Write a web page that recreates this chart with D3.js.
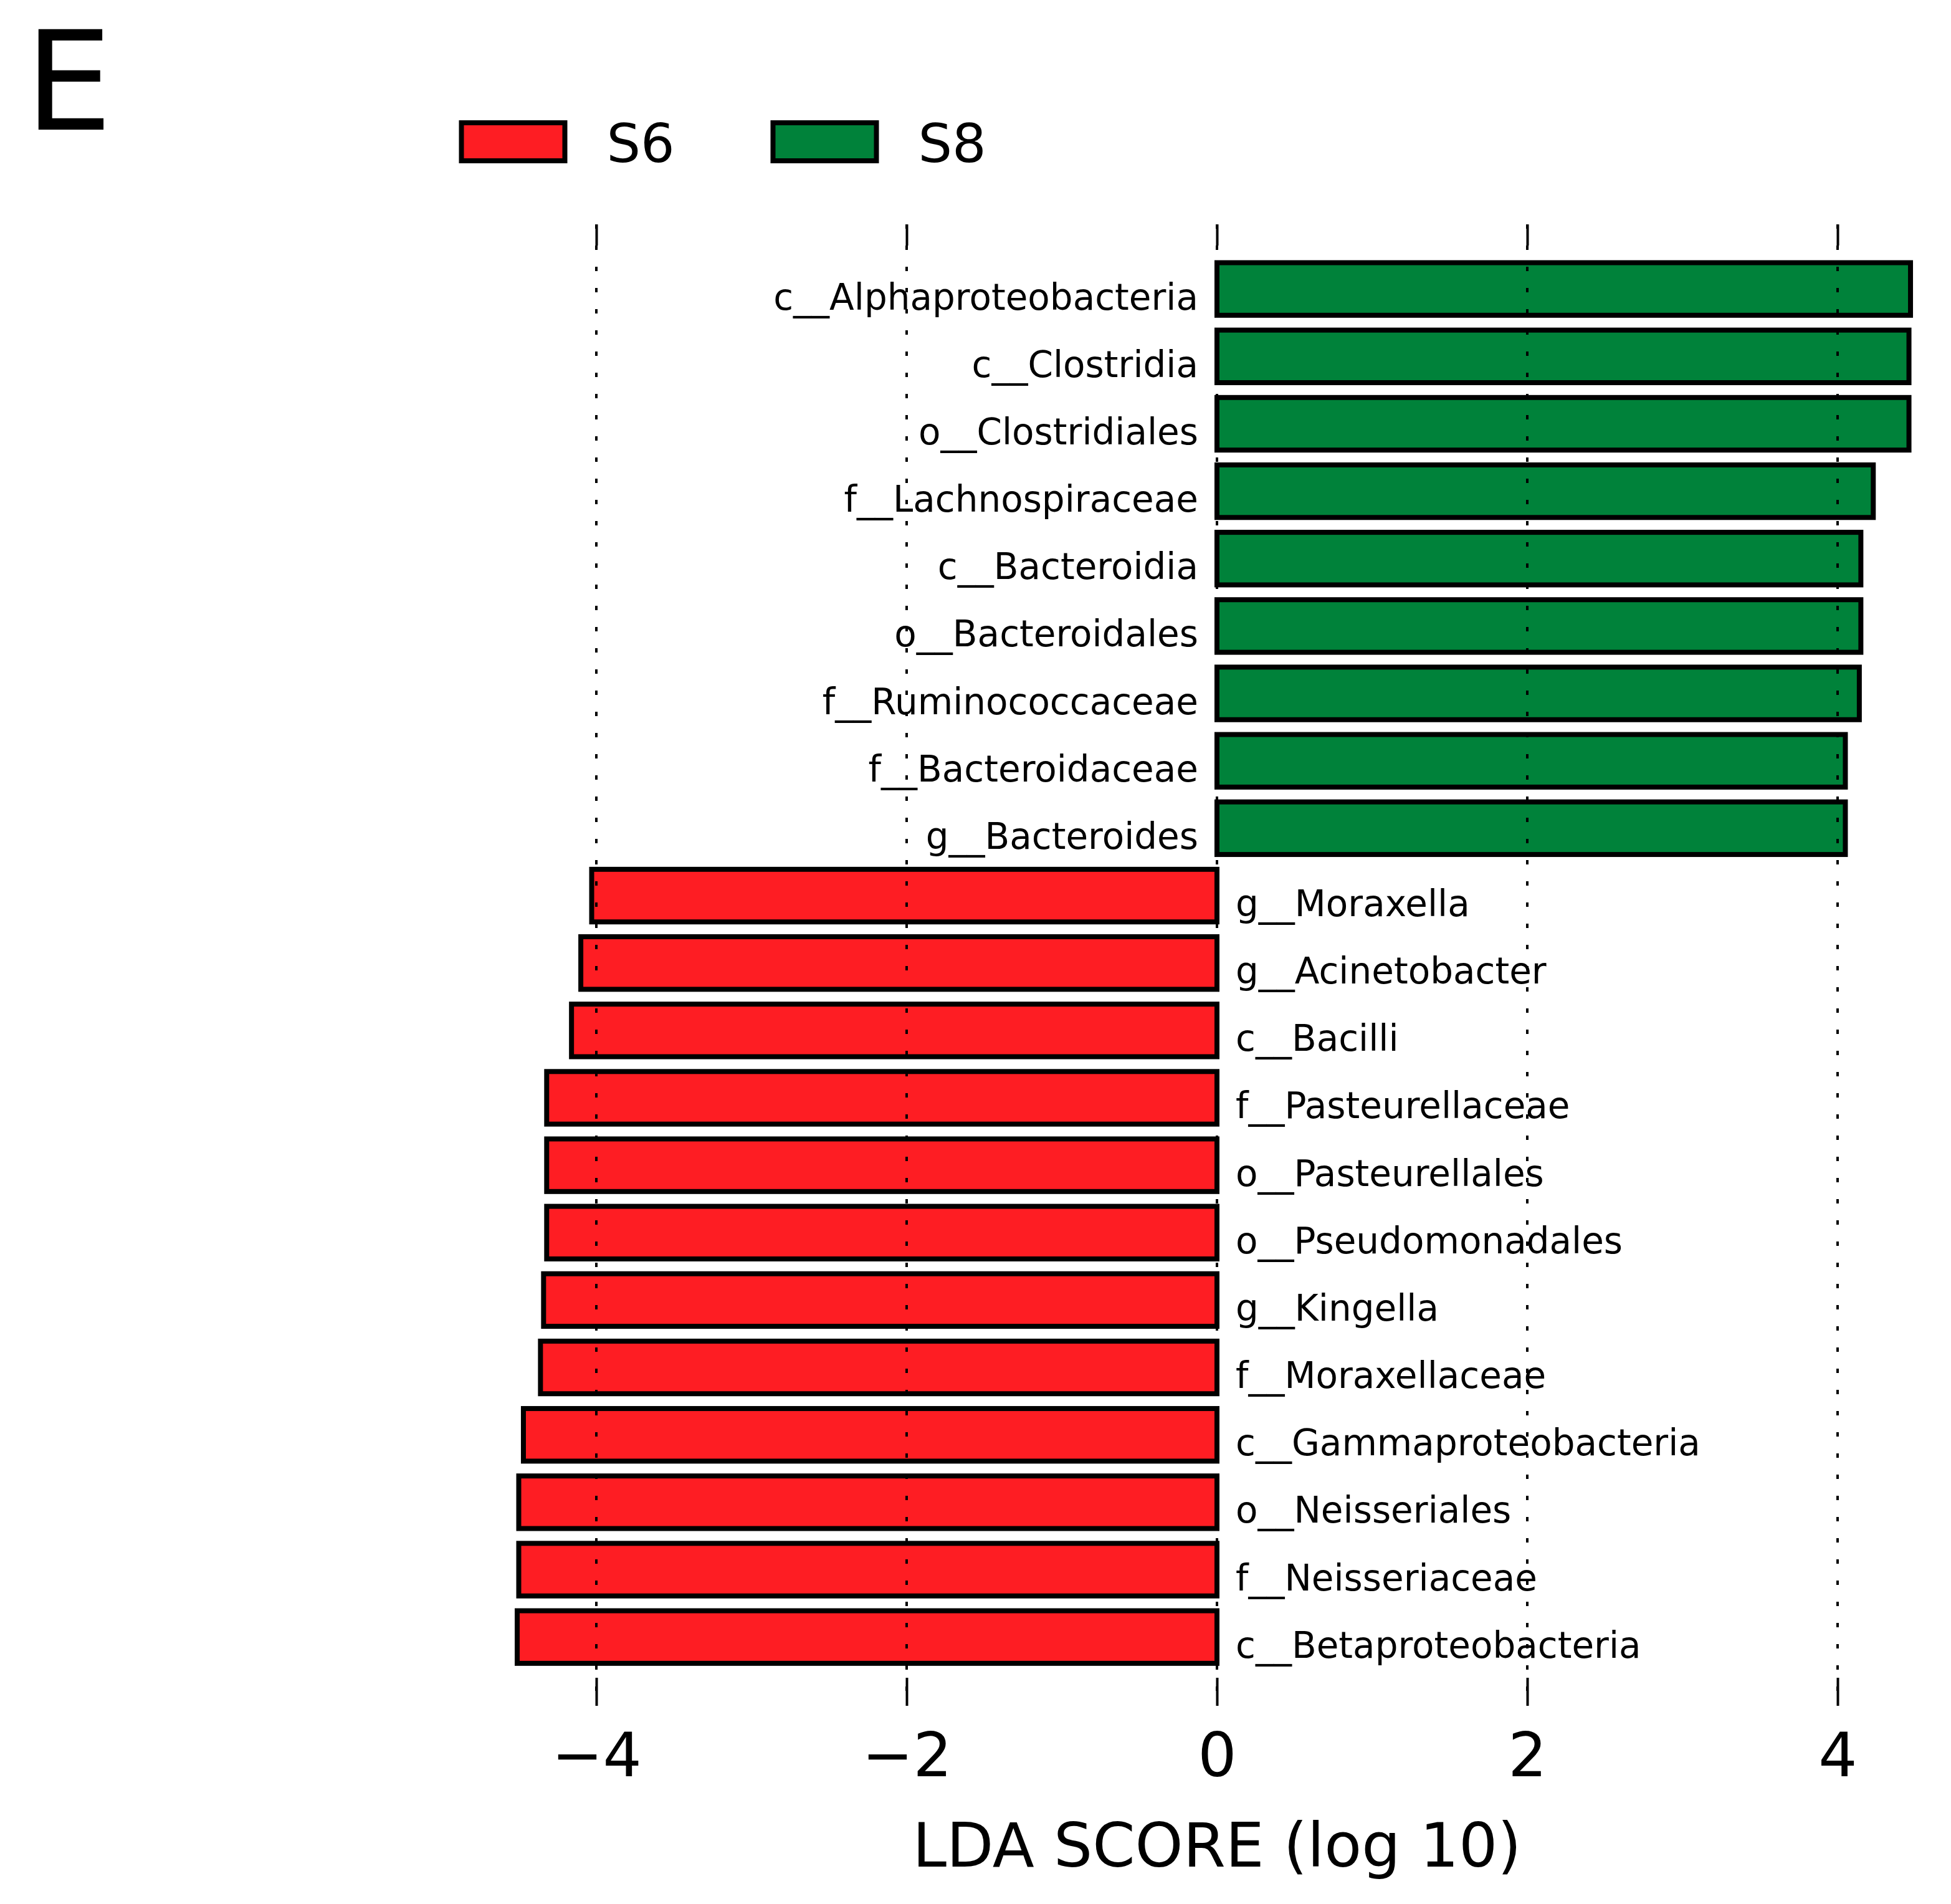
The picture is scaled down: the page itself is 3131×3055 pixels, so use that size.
<!DOCTYPE html>
<html>
<head>
<meta charset="utf-8">
<script src="https://cdn.jsdelivr.net/npm/d3@7"></script>
<style>
  html, body { margin: 0; padding: 0; background: #fff; }
  svg { display: block; }
  text { font-family: "DejaVu Sans", sans-serif; fill: #000; }
</style>
</head>
<body>
<svg id="chart" width="3131" height="3055"></svg>
<script>
// ---- data ----
const taxa = [
  "c__Alphaproteobacteria", "c__Clostridia", "o__Clostridiales", "f__Lachnospiraceae",
  "c__Bacteroidia", "o__Bacteroidales", "f__Ruminococcaceae", "f__Bacteroidaceae",
  "g__Bacteroides", "g__Moraxella", "g__Acinetobacter", "c__Bacilli",
  "f__Pasteurellaceae", "o__Pasteurellales", "o__Pseudomonadales", "g__Kingella",
  "f__Moraxellaceae", "c__Gammaproteobacteria", "o__Neisseriales", "f__Neisseriaceae",
  "c__Betaproteobacteria"
];
const ldaScores = [
  4.47, 4.46, 4.46, 4.23,
  4.15, 4.15, 4.14, 4.05,
  4.05, -4.03, -4.10, -4.16,
  -4.32, -4.32, -4.32, -4.34,
  -4.36, -4.47, -4.50, -4.50,
  -4.51
];
const groups = [
  "S8","S8","S8","S8","S8","S8","S8","S8","S8",
  "S6","S6","S6","S6","S6","S6","S6","S6","S6","S6","S6","S6"
];
const legendGroups = ["S6", "S8"];
const groupColors = ["#fe1d23", "#00823a"];
const tickValues = [-4, -2, 0, 2, 4];
const panelLetter = "E";
const xTitle = "LDA SCORE (log 10)";

// ---- layout ----
const svg = d3.select("#chart");
const axTop = 360, axBottom = 2737;
const x = d3.scaleLinear().domain([-4.6, 4.6]).range([807.6, 3098.4]);
const color = d3.scaleOrdinal().domain(legendGroups).range(groupColors);
const y = d3.scaleBand().domain(taxa)
  .range([409.6, 409.6 + 21 * 108.15])
  .paddingInner(0.22).paddingOuter(0.11);

const data = taxa.map((t, i) => ({ taxon: t, value: ldaScores[i], group: groups[i] }));

// panel letter
svg.append("text").attr("x", 40).attr("y", 208)
  .attr("font-size", 222).attr("font-family", "Noto Sans, DejaVu Sans, sans-serif")
  .attr("fill", "#1a1a1a").text(panelLetter);

// legend
const legend = svg.append("g");
const legX = d3.scaleOrdinal().domain(legendGroups).range([740.5, 1240.5]);
legendGroups.forEach(g => {
  legend.append("rect")
    .attr("x", legX(g)).attr("y", 197).attr("width", 166).attr("height", 61)
    .attr("fill", color(g)).attr("stroke", "#000").attr("stroke-width", 8);
  legend.append("text")
    .attr("x", legX(g) + 233).attr("y", 260)
    .attr("font-size", 86).text(g);
});

// bars
svg.append("g").selectAll("rect").data(data).join("rect")
  .attr("x", d => Math.min(x(0), x(d.value)))
  .attr("width", d => Math.abs(x(d.value) - x(0)))
  .attr("y", d => y(d.taxon))
  .attr("height", y.bandwidth())
  .attr("fill", d => color(d.group))
  .attr("stroke", "#000").attr("stroke-width", 8);

// labels
svg.append("g").selectAll("text").data(data).join("text")
  .attr("x", d => d.value > 0 ? x(0) - 30 : x(0) + 30)
  .attr("y", d => y(d.taxon) + y.bandwidth() / 2 + 33)
  .attr("text-anchor", d => d.value > 0 ? "end" : "start")
  .attr("font-size", 58)
  .text(d => d.taxon);

// grid (dotted, drawn over bars)
svg.append("g").selectAll("line").data(tickValues).join("line")
  .attr("x1", d => x(d)).attr("x2", d => x(d))
  .attr("y1", axTop).attr("y2", axBottom)
  .attr("stroke", "#000").attr("stroke-width", 4)
  .attr("stroke-dasharray", "7,27");

// axes
const topAxis = svg.append("g").attr("transform", `translate(0,${axTop})`)
  .call(d3.axisTop(x).tickValues(tickValues).tickSize(-34).tickFormat(""));
const bottomAxis = svg.append("g").attr("transform", `translate(0,${axBottom})`)
  .call(d3.axisBottom(x).tickValues(tickValues).tickSize(-45).tickFormat(d3.format("d")));
[topAxis, bottomAxis].forEach(a => {
  a.select(".domain").remove();
  a.selectAll(".tick line").attr("stroke", "#000").attr("stroke-width", 4);
});
bottomAxis.selectAll(".tick text")
  .attr("y", 113).attr("dy", 0)
  .attr("font-size", 98).attr("font-family", "DejaVu Sans, sans-serif").attr("fill", "#000");

// x title
svg.append("text").attr("x", x(0)).attr("y", 2995)
  .attr("text-anchor", "middle").attr("font-size", 98).text(xTitle);
</script>
</body>
</html>
